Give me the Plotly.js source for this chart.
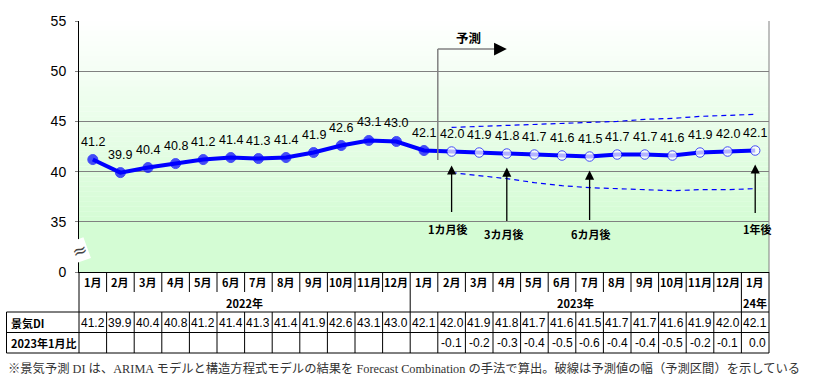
<!DOCTYPE html>
<html><head><meta charset="utf-8">
<script src="https://cdn.plot.ly/plotly-3.0.1.min.js"></script>
<style>html,body{margin:0;padding:0;background:#fff}#chart{width:818px;height:384px}</style>
</head><body><div id="chart"></div>
<script>
// ---------- data ----------
const monthLabels = ['1月','2月','3月','4月','5月','6月','7月','8月','9月','10月','11月','12月',
                     '1月','2月','3月','4月','5月','6月','7月','8月','9月','10月','11月','12月','1月'];
const yearLabels = ['2022年','2023年','24年'];
const actualDI = [41.2,39.9,40.4,40.8,41.2,41.4,41.3,41.4,41.9,42.6,43.1,43.0,42.1];
const forecastDI = [42.0,41.9,41.8,41.7,41.6,41.5,41.7,41.7,41.6,41.9,42.0,42.1];
const upperBand = [44.4,44.5,44.6,44.7,44.8,44.9,45.0,45.2,45.3,45.5,45.6,45.7];
const lowerBand = [39.9,39.6,39.3,38.9,38.6,38.4,38.3,38.2,38.1,38.2,38.2,38.3];
const diffVsJan2023 = [-0.1,-0.2,-0.3,-0.4,-0.5,-0.6,-0.4,-0.4,-0.5,-0.2,-0.1,0.0];
const horizonLabels = ['1カ月後','3カ月後','6カ月後','1年後'];
const horizonSteps = [1,3,6,12];
const yTickVals = [30,35,40,45,50,55];
const yTickText = ['0','35','40','45','50','55'];
const rowLabels = ['景気DI','2023年1月比'];
const forecastLabel = '予測';
const footnote = '※景気予測 DI は、ARIMA モデルと構造方程式モデルの結果を Forecast Combination の手法で算出。破線は予測値の幅（予測区間）を示している';

// ---------- geometry helpers ----------
const L = 79, T = 21, W = 690, H = 251;
const py = Y => (T + H - Y) / H;   // pixel Y -> paper y
const px = X => (X - L) / W;       // pixel X -> paper x

const allDI = actualDI.concat(forecastDI);
const xAll = allDI.map((_, i) => i + 1);
const nAct = actualDI.length;
const xFc = forecastDI.map((_, i) => nAct + i + 1);

const BLUE = '#0000ff';
const JP = 'Noto Sans CJK JP, sans-serif';
const LAT = 'Liberation Sans, Arial, sans-serif';

const traces = [
  {x: xFc, y: upperBand, mode: 'lines', line: {color: BLUE, width: 1.2, dash: '5px,4px'}, hoverinfo: 'skip'},
  {x: xFc, y: lowerBand, mode: 'lines', line: {color: BLUE, width: 1.2, dash: '5px,4px'}, hoverinfo: 'skip'},
  {x: xAll, y: allDI, mode: 'lines+markers', line: {color: BLUE, width: 4},
   marker: {size: allDI.map((_, i) => i < nAct ? 10 : 9.5),
            color: allDI.map((_, i) => i < nAct ? BLUE : '#ffffff'),
            line: {color: BLUE, width: 1}}}
];

const shapes = [];
// gradient background
const nStrip = 40, y0 = 35, y1 = 55;
const c0 = [212, 252, 212], c1 = [255, 255, 255];
for (let i = 0; i < nStrip; i++) {
  const t = (i + 0.5) / nStrip;
  const c = c0.map((v, k) => Math.round(v + (c1[k] - v) * t));
  shapes.push({type: 'rect', xref: 'paper', yref: 'y', x0: 0, x1: 1,
    y0: y0 + (y1 - y0) * i / nStrip, y1: y0 + (y1 - y0) * (i + 1) / nStrip + 0.02,
    fillcolor: `rgb(${c[0]},${c[1]},${c[2]})`, line: {width: 0}, layer: 'below'});
}
shapes.push({type: 'rect', xref: 'paper', yref: 'y', x0: 0, x1: 1, y0: 30, y1: 35.02,
  fillcolor: 'rgb(212,252,212)', line: {width: 0}, layer: 'below'});
// right border of plot (gray)
shapes.push({type: 'line', xref: 'paper', yref: 'paper', x0: 1, x1: 1, y0: 0, y1: 1, line: {color: '#808080', width: 1}});

// table lines
const blk = {color: '#000', width: 1};
const n = allDI.length;
for (let k = 1; k < n; k++) {
  const xb = k + 0.5;
  const full = (k === 12 || k === 24);
  if (full) {
    shapes.push({type: 'line', xref: 'x', yref: 'paper', x0: xb, x1: xb, y0: py(272), y1: py(353), line: blk});
  } else {
    shapes.push({type: 'line', xref: 'x', yref: 'paper', x0: xb, x1: xb, y0: py(272), y1: py(292), line: blk});
    shapes.push({type: 'line', xref: 'x', yref: 'paper', x0: xb, x1: xb, y0: py(312), y1: py(353), line: blk});
  }
}
shapes.push({type: 'line', xref: 'paper', yref: 'paper', x0: 0, x1: 0, y0: py(272), y1: py(353), line: blk});
shapes.push({type: 'line', xref: 'paper', yref: 'paper', x0: 1, x1: 1, y0: py(272), y1: py(353), line: blk});
shapes.push({type: 'line', xref: 'paper', yref: 'paper', x0: px(6.5), x1: px(6.5), y0: py(312), y1: py(353), line: blk});
[312, 332.5, 353].forEach(Y => shapes.push({type: 'line', xref: 'paper', yref: 'paper',
  x0: px(6.5), x1: 1, y0: py(Y), y1: py(Y), line: blk}));

// forecast bracket (gray line)
const fx = nAct + 0.5;
shapes.push({type: 'line', xref: 'x', yref: 'paper', x0: fx, x1: fx, y0: py(160), y1: py(49), line: {color: '#808080', width: 1.5}});
shapes.push({type: 'line', xref: 'x', yref: 'paper', x0: fx, x1: nAct + 2.6, y0: py(49), y1: py(49), line: {color: '#808080', width: 1.5}});

const C = {xanchor: 'center', yanchor: 'middle', showarrow: false};
const annotations = [];
// data labels
allDI.forEach((v, i) => annotations.push({...C, x: i + 1, y: v, text: v.toFixed(1),
  yshift: 18, font: {family: LAT, size: 12.5, color: '#000'}}));
// forecast arrow head + label
annotations.push({x: nAct + 3, y: py(49), xref: 'x', yref: 'paper', text: '', showarrow: true,
  ax: -12, ay: 0, arrowhead: 2, arrowsize: 1.7, arrowwidth: 1.5, arrowcolor: '#000'});
annotations.push({...C, x: px(468), y: py(37), xref: 'paper', yref: 'paper', text: '<b>' + forecastLabel + '</b>',
  font: {family: JP, size: 12.5, color: '#000'}});
// horizon arrows
const tailOffsets = [62, 69, 65, 64];
const labelPos = [[448, 229], [504, 234], [591, 234], [757, 229]];
horizonSteps.forEach((s, j) => {
  const m = nAct + s;
  annotations.push({x: m, y: allDI[m - 1], text: '', showarrow: true, ax: 0, ay: tailOffsets[j],
    standoff: 14, arrowhead: 2, arrowsize: 1.4, arrowwidth: 1.3, arrowcolor: '#000'});
  annotations.push({...C, x: px(labelPos[j][0]), y: py(labelPos[j][1]), xref: 'paper', yref: 'paper',
    text: '<b>' + horizonLabels[j] + '</b>', font: {family: JP, size: 11, color: '#000'}});
});
// axis break mark
annotations.push({...C, x: 0, y: py(250), xref: 'paper', yref: 'paper', text: '≈',
  bgcolor: '#ffffff', textangle: -20, font: {family: 'DejaVu Sans', size: 18, color: '#444'}, borderpad: 0});
// month row
monthLabels.forEach((m, i) => annotations.push({...C, x: i + 1, y: py(281.5), xref: 'x', yref: 'paper', text: '<b>' + m + '</b>',
  font: {family: JP, size: 11, color: '#000'}}));
// year row
[[6.5, 0], [18.5, 1], [25, 2]].forEach(([xv, k]) => annotations.push({...C, x: xv, y: py(302.5), xref: 'x', yref: 'paper',
  text: '<b>' + yearLabels[k] + '</b>', font: {family: JP, size: 11, color: '#000'}}));
// row labels
rowLabels.forEach((r, j) => annotations.push({...C, x: px(9), y: py(j === 0 ? 322.5 : 343), xref: 'paper', yref: 'paper',
  xanchor: 'left', text: '<b>' + r + '</b>', font: {family: JP, size: 11, color: '#000'}}));
// DI values row
allDI.forEach((v, i) => annotations.push({...C, x: i + 1, y: py(322.5), xref: 'x', yref: 'paper', text: v.toFixed(1),
  font: {family: LAT, size: 12, color: '#000'}}));
// diff row
diffVsJan2023.forEach((v, i) => annotations.push({...C, x: nAct + i + 1.5, y: py(343), xref: 'x', yref: 'paper',
  xanchor: 'right', xshift: -1, text: v.toFixed(1),
  font: {family: LAT, size: 12, color: '#000'}}));
// footnote
annotations.push({...C, x: px(6), y: py(368), xref: 'paper', yref: 'paper', xanchor: 'left', text: footnote,
  font: {family: 'Liberation Serif, Noto Sans CJK JP, serif', size: 12.3, color: '#333'}});

const layout = {
  width: 818, height: 384,
  margin: {l: L, r: 818 - L - W, t: T, b: 384 - T - H},
  paper_bgcolor: '#ffffff', plot_bgcolor: 'rgba(0,0,0,0)',
  showlegend: false,
  xaxis: {range: [0.5, 25.5], showticklabels: false, showgrid: false, zeroline: false,
    showline: true, linecolor: '#000', linewidth: 1, ticks: ''},
  yaxis: {range: [30, 55], tickvals: yTickVals, ticktext: yTickText, showgrid: true, gridcolor: '#808080',
    gridwidth: 1, zeroline: false, showline: true, linecolor: '#000', linewidth: 1, ticks: 'outside',
    ticklen: 3, tickcolor: '#808080', ticklabelstandoff: 6, tickfont: {family: LAT, size: 14, color: '#000'}},
  shapes: shapes,
  annotations: annotations
};

Plotly.newPlot('chart', traces, layout, {displayModeBar: false, staticPlot: true});
</script>
</body></html>
